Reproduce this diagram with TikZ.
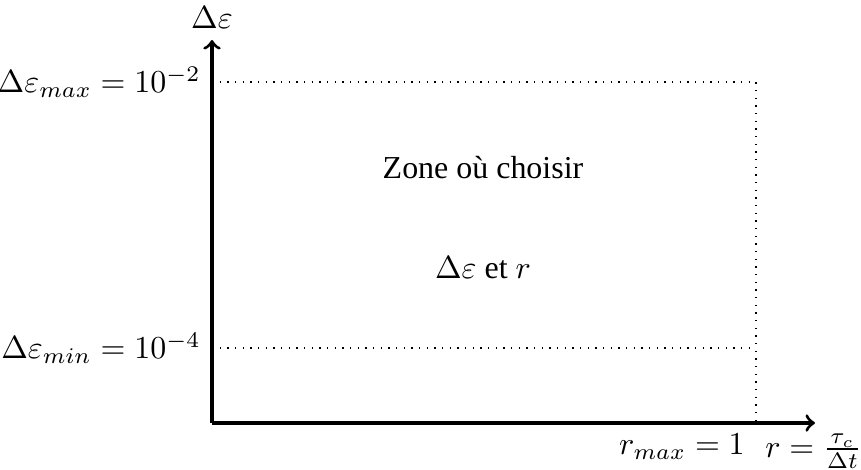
\documentclass[tikz,border=0pt]{standalone}
\usepackage[no-math]{fontspec}
\setmainfont{Liberation Serif}
\usetikzlibrary{positioning}
\tikzset{
  axe/.style={->,line width=1pt},
  lim/.style={dotted},
  zone/.style={align=center},
}
\begin{document}
\begin{tikzpicture}[x=0.011cm,y=0.011cm]
\useasboundingbox (-212,-46) rectangle (649,423);
\coordinate (o) at (0,0);
\coordinate (xend) at (603,0);
\coordinate (yend) at (0,383);
\coordinate (emax) at (0,341);
\coordinate (emin) at (0,75);
\coordinate (coin) at (544,341);
\coordinate (rmax) at (544,0);
\draw[axe] (o) -- (xend);
\draw[axe] (o) -- (yend);
\draw[lim] (emax) -- (coin) -- (rmax);
\draw[lim] (emin) -- (emin -| coin);
\node[above=0pt of yend] (leps) {$\Delta\varepsilon$};
\node[left=0pt of emax] (lmax) {$\Delta\varepsilon_{max}=10^{-2}$};
\node[left=0pt of emin] (lmin) {$\Delta\varepsilon_{min}=10^{-4}$};
\node[below left=0pt of rmax] (lrmax) {$r_{max}=1$};
\node[below=0pt of xend,xshift=-0.5pt] (lr) {$r=\frac{\tau_c}{\Delta t}$};
\node[zone] (z1) at (271,255) {Zone où choisir};
\node[zone] (z2) at (271,155) {$\Delta\varepsilon$ et $r$};
\end{tikzpicture}
\end{document}
